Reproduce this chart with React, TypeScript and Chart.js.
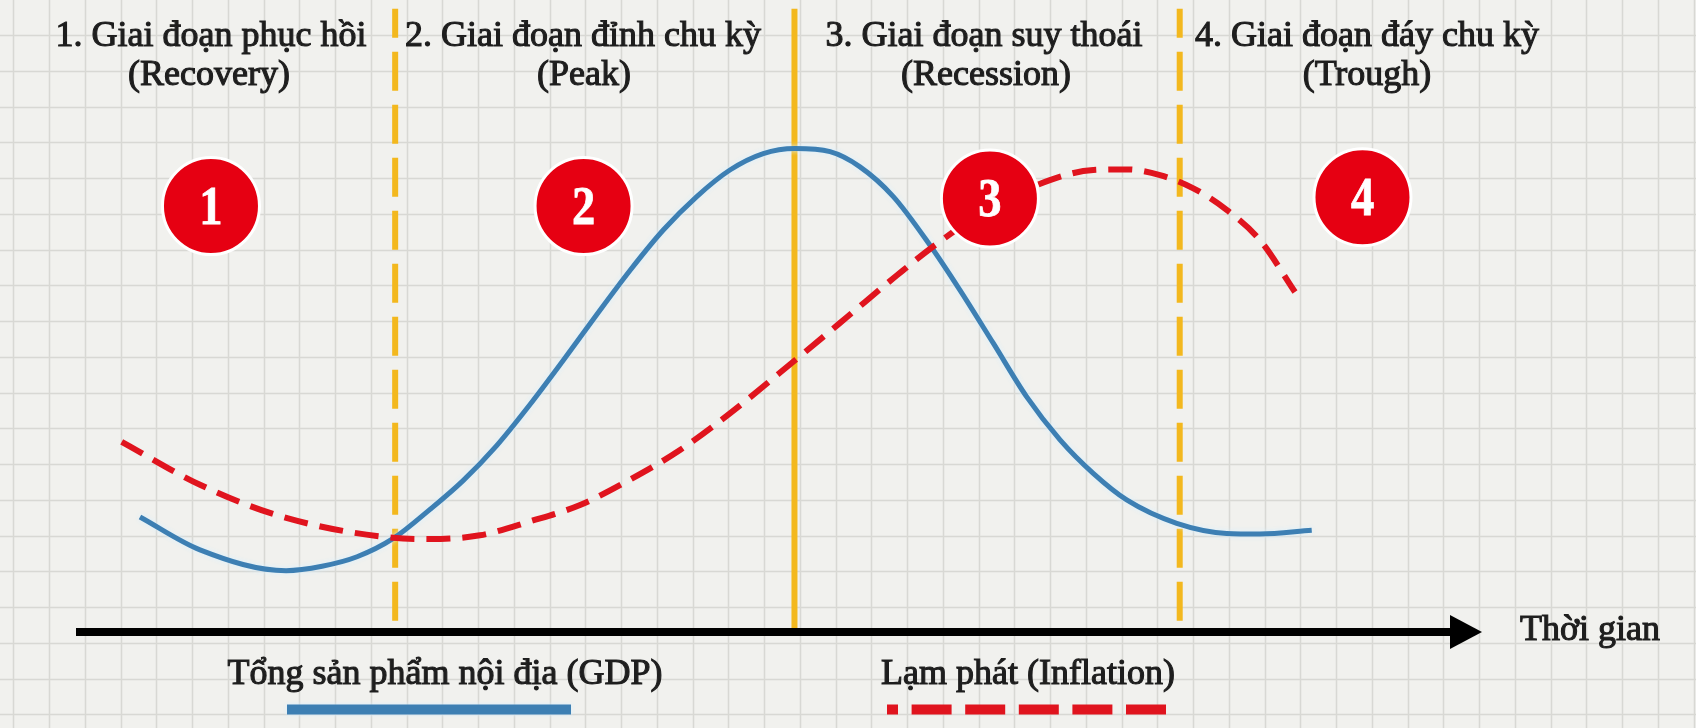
import { useEffect, useRef } from 'react';
import { Chart, registerables } from 'chart.js';

Chart.register(...registerables);

// ---- data (time axis 0..100, level axis 0..100, arbitrary units) ----
const GDP_X = [4.55, 8.82, 14.94, 17.50, 19.99, 22.57, 25.18, 27.55, 29.92, 32.29, 34.66, 37.03, 39.40, 41.77, 44.15, 46.51, 48.88, 51.14, 53.63, 55.76, 58.13, 60.74, 62.87, 65.24, 67.62, 69.99, 72.35, 74.73, 78.29, 81.84, 84.21, 87.89];
const GDP_Y = [18.2, 13.0, 9.7, 10.4, 11.9, 14.8, 19.4, 24.0, 29.5, 36.0, 43.0, 50.2, 57.2, 63.6, 68.9, 73.1, 75.7, 76.5, 76.0, 73.6, 68.9, 61.2, 54.1, 45.7, 37.2, 30.4, 25.1, 20.9, 17.2, 15.6, 15.5, 16.1];

const INF_X = [3.25, 8.82, 14.72, 22.55, 25.18, 28.73, 32.29, 35.85, 39.40, 42.96, 46.51, 51.14, 54.82, 58.37, 60.97, 65.01, 69.27, 72.35, 74.73, 77.10, 79.47, 81.84, 84.21, 86.70];
const INF_Y = [30.1, 23.3, 18.2, 14.9, 14.7, 15.3, 17.5, 20.1, 24.1, 28.8, 34.6, 43.0, 49.8, 56.4, 61.0, 67.1, 71.5, 73.1, 73.2, 72.3, 70.2, 66.8, 62.0, 53.8];

const PHASE_X = [22.7, 51.1, 78.5];
const PHASE_DASHED = [true, false, true];
const PHASE_TOP = 98.6;

const BADGE_X = [9.6, 36.1, 65.0, 91.5];
const BADGE_Y = [67.4, 67.4, 68.6, 68.8];
const BADGE_LABELS = ['1', '2', '3', '4'];

const PHASE_TITLES = ['1. Giai đoạn phục hồi', '2. Giai đoạn đỉnh chu kỳ', '3. Giai đoạn suy thoái', '4. Giai đoạn đáy chu kỳ'];
const PHASE_SUBTITLES = ['(Recovery)', '(Peak)', '(Recession)', '(Trough)'];
const SERIES_NAMES = ['Tổng sản phẩm nội địa (GDP)', 'Lạm phát (Inflation)'];
const AXIS_TITLE = 'Thời gian';

// ---- styling / layout ----
const BLUE = '#3d7fb3';
const RED = '#e0141e';
const YELLOW = '#f3b81e';
const BADGE_RED = '#e60012';
const TEXT = '#1e1e1e';
const FONT = '"Liberation Serif", "Times New Roman", serif';
const TITLE_CX = [211, 583, 984, 1367];
const SUB_CX = [209, 584, 986, 1367];

const pts = (xs: number[], ys: number[]) => xs.map((x, i) => ({ x, y: ys[i] }));

const paperPlugin = {
  id: 'paper',
  beforeDraw(chart: any) {
    const { ctx, width, height } = chart;
    ctx.save();
    ctx.fillStyle = '#f1f1ee';
    ctx.fillRect(0, 0, width, height);
    ctx.strokeStyle = '#d8d8d4';
    ctx.lineWidth = 1.5;
    const step = 35.75;
    ctx.beginPath();
    for (let x = 13.3; x < width; x += step) {
      ctx.moveTo(Math.round(x) + 0.5, 0);
      ctx.lineTo(Math.round(x) + 0.5, height);
    }
    for (let y = 35 - step; y < height; y += step) {
      if (y < 0) continue;
      ctx.moveTo(0, Math.round(y) + 0.5);
      ctx.lineTo(width, Math.round(y) + 0.5);
    }
    ctx.stroke();
    ctx.restore();
  },
  beforeDatasetDraw(chart: any, args: any) {
    if (args.meta.label === 'GDP') {
      chart.ctx.save();
      chart.ctx.shadowColor = 'rgba(215,240,255,0.95)';
      chart.ctx.shadowBlur = 5;
    }
  },
  afterDatasetDraw(chart: any, args: any) {
    if (args.meta.label === 'GDP') chart.ctx.restore();
  },
  afterDatasetsDraw(chart: any) {
    const { ctx, chartArea, scales } = chart;
    const y0 = scales.y.getPixelForValue(0);
    const tip = chartArea.right;
    // time axis with arrow
    ctx.save();
    ctx.strokeStyle = '#000';
    ctx.lineWidth = 8;
    ctx.beginPath();
    ctx.moveTo(chartArea.left, y0);
    ctx.lineTo(tip - 28, y0);
    ctx.stroke();
    ctx.fillStyle = '#000';
    ctx.beginPath();
    ctx.moveTo(tip - 32, y0 - 17);
    ctx.lineTo(tip, y0);
    ctx.lineTo(tip - 32, y0 + 17);
    ctx.closePath();
    ctx.fill();
    ctx.restore();

    // badge numbers
    const meta = chart.getDatasetMeta(0);
    ctx.save();
    ctx.fillStyle = '#ffffff';
    ctx.strokeStyle = '#ffffff';
    ctx.lineWidth = 0.8;
    ctx.font = `bold 54px ${FONT}`;
    ctx.textAlign = 'center';
    ctx.textBaseline = 'alphabetic';
    meta.data.forEach((el: any, i: number) => {
      ctx.save();
      ctx.translate(el.x, el.y + 18);
      ctx.scale(0.86, 1);
      ctx.fillText(BADGE_LABELS[i], 0, 0);
      ctx.strokeText(BADGE_LABELS[i], 0, 0);
      ctx.restore();
    });
    ctx.restore();
  },
  afterDraw(chart: any) {
    const { ctx } = chart;
    ctx.save();
    ctx.fillStyle = TEXT;
    ctx.strokeStyle = TEXT;
    ctx.lineWidth = 1.1;
    ctx.font = `36px ${FONT}`;
    ctx.textAlign = 'center';
    ctx.textBaseline = 'alphabetic';
    const put = (t: string, x: number, y: number) => {
      ctx.fillText(t, x, y);
      ctx.strokeText(t, x, y);
    };
    PHASE_TITLES.forEach((t, i) => put(t, TITLE_CX[i], 46));
    PHASE_SUBTITLES.forEach((t, i) => put(t, SUB_CX[i], 85));
    put(SERIES_NAMES[0], 445, 684);
    put(SERIES_NAMES[1], 1028, 684);
    put(AXIS_TITLE, 1590, 640);

    // legend samples
    ctx.lineWidth = 10;
    ctx.shadowColor = 'rgba(215,240,255,0.95)';
    ctx.shadowBlur = 4;
    ctx.strokeStyle = BLUE;
    ctx.beginPath();
    ctx.moveTo(287, 709.5);
    ctx.lineTo(571, 709.5);
    ctx.stroke();
    ctx.shadowBlur = 0;
    ctx.strokeStyle = RED;
    ctx.setLineDash([40, 13.6]);
    ctx.lineDashOffset = 29;
    ctx.beginPath();
    ctx.moveTo(887, 709.5);
    ctx.lineTo(1166, 709.5);
    ctx.stroke();
    ctx.restore();
  },
};

export default function App() {
  const ref = useRef<HTMLCanvasElement>(null);
  useEffect(() => {
    if (!ref.current) return;
    const phaseSets = PHASE_X.map((x, i) => ({
      label: `phase${i + 1}`,
      data: [{ x, y: PHASE_TOP }, { x, y: 0 }],
      borderColor: YELLOW,
      borderWidth: 6,
      borderDash: PHASE_DASHED[i] ? [39, 14] : [],
      borderDashOffset: PHASE_DASHED[i] ? 10 : 0,
      pointRadius: 0,
      tension: 0,
      order: 5,
    }));
    const chart = new Chart(ref.current, {
      type: 'line',
      data: {
        datasets: [
          {
            label: 'badges',
            data: pts(BADGE_X, BADGE_Y),
            showLine: false,
            pointRadius: 48.5,
            pointBackgroundColor: BADGE_RED,
            pointBorderColor: '#ffffff',
            pointBorderWidth: 3,
            clip: false,
            order: 1,
          } as any,
          {
            label: 'Inflation',
            data: pts(INF_X, INF_Y),
            borderColor: RED,
            borderWidth: 6,
            borderDash: [24, 12],
            cubicInterpolationMode: 'monotone',
            pointRadius: 0,
            order: 2,
          },
          {
            label: 'GDP',
            data: pts(GDP_X, GDP_Y),
            borderColor: BLUE,
            borderWidth: 5,
            cubicInterpolationMode: 'monotone',
            pointRadius: 0,
            order: 3,
          },
          ...phaseSets,
        ],
      },
      options: {
        responsive: false,
        animation: false,
        events: [],
        layout: { autoPadding: false, padding: { left: 76, right: 214, top: 0, bottom: 96 } },
        scales: {
          x: { type: 'linear', min: 0, max: 100, display: false },
          y: { type: 'linear', min: 0, max: 100, display: false },
        },
        plugins: { legend: { display: false }, tooltip: { enabled: false } },
      },
      plugins: [paperPlugin],
    });
    return () => chart.destroy();
  }, []);
  return (
    <div style={{ position: 'fixed', left: 0, top: 0, width: 1696, height: 728 }}>
      <canvas ref={ref} width={1696} height={728} style={{ display: 'block' }} />
    </div>
  );
}
